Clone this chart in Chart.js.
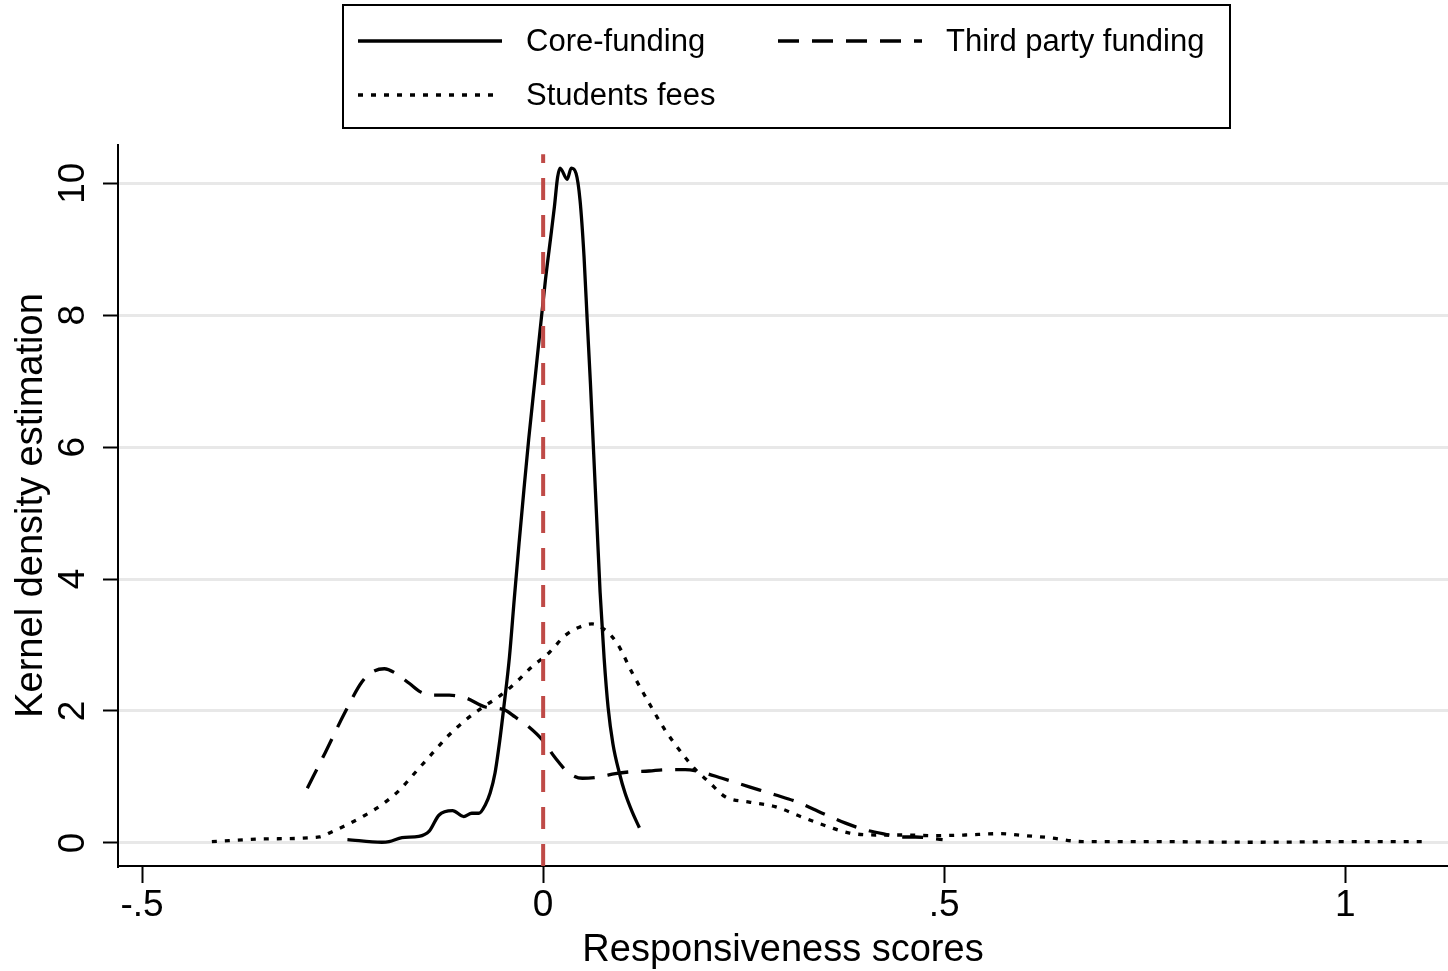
<!DOCTYPE html>
<html>
<head>
<meta charset="utf-8">
<script src="https://cdn.jsdelivr.net/npm/chart.js@4.4.0/dist/chart.umd.min.js"></script>
<style>
  html, body { margin: 0; padding: 0; background: #fff; }
  #wrap { width: 1448px; height: 971px; }
</style>
</head>
<body>
<div id="wrap"><canvas id="kdeChart" width="1448" height="971"></canvas></div>
<script>
// ==== Data ====
const xTicks = [-0.5, 0, 0.5, 1];
const yTicks = [0, 2, 4, 6, 8, 10];
const seriesNames = ["Core-funding", "Third party funding", "Students fees"];

const coreX = [-0.244, -0.201, -0.192, -0.176, -0.155, -0.142, -0.130, -0.113, -0.099, -0.089, -0.080, -0.072, -0.066, -0.060, -0.054, -0.049, -0.042, -0.036, -0.030, -0.024, -0.018, -0.010, -0.004, 0.003, 0.009, 0.014, 0.018, 0.021, 0.030, 0.035, 0.041, 0.046, 0.051, 0.055, 0.059, 0.063, 0.067, 0.071, 0.076, 0.081, 0.087, 0.095, 0.102, 0.111, 0.120];
const coreY = [0.05, 0.01, 0.02, 0.08, 0.10, 0.18, 0.42, 0.49, 0.40, 0.45, 0.45, 0.58, 0.76, 1.06, 1.56, 2.06, 2.82, 3.70, 4.55, 5.35, 6.12, 7.05, 7.75, 8.55, 9.14, 9.64, 10.09, 10.23, 10.06, 10.23, 10.15, 9.74, 8.88, 7.90, 6.95, 5.90, 4.85, 3.80, 2.80, 2.05, 1.50, 1.06, 0.76, 0.47, 0.23];

const thirdX = [-0.294, -0.272, -0.247, -0.226, -0.213, -0.198, -0.185, -0.167, -0.153, -0.138, -0.117, -0.097, -0.072, -0.049, -0.035, -0.018, -0.001, 0.015, 0.032, 0.049, 0.070, 0.090, 0.111, 0.132, 0.152, 0.177, 0.195, 0.223, 0.257, 0.289, 0.319, 0.348, 0.377, 0.401, 0.423, 0.448, 0.464, 0.498];
const thirdY = [0.83, 1.36, 1.98, 2.44, 2.59, 2.64, 2.58, 2.42, 2.29, 2.24, 2.24, 2.20, 2.06, 2.02, 1.91, 1.76, 1.56, 1.29, 1.06, 0.98, 1.00, 1.05, 1.08, 1.09, 1.11, 1.11, 1.08, 0.98, 0.85, 0.73, 0.61, 0.45, 0.30, 0.20, 0.14, 0.09, 0.09, 0.05];

const feesX = [-0.413, -0.347, -0.279, -0.263, -0.242, -0.222, -0.201, -0.180, -0.160, -0.138, -0.117, -0.097, -0.076, -0.055, -0.035, -0.014, 0.008, 0.027, 0.045, 0.061, 0.077, 0.092, 0.111, 0.132, 0.152, 0.173, 0.190, 0.207, 0.227, 0.257, 0.289, 0.323, 0.357, 0.382, 0.414, 0.448, 0.485, 0.526, 0.569, 0.601, 0.631, 0.672, 0.759, 0.884, 1.009, 1.102];
const feesY = [0.02, 0.06, 0.09, 0.17, 0.29, 0.42, 0.58, 0.79, 1.06, 1.36, 1.64, 1.86, 2.05, 2.22, 2.42, 2.67, 2.89, 3.14, 3.27, 3.32, 3.23, 3.03, 2.58, 2.12, 1.71, 1.36, 1.11, 0.92, 0.70, 0.62, 0.55, 0.39, 0.24, 0.15, 0.12, 0.12, 0.11, 0.12, 0.14, 0.11, 0.08, 0.02, 0.02, 0.01, 0.02, 0.02];

// vertical reference line at zero
const refX = [0, 0];
const refY = [-0.35, 10.44];

// ==== Helpers ====
const FONT = "'Liberation Sans', Arial, Helvetica, sans-serif";
const toPoints = (xs, ys) => xs.map((x, i) => ({ x: x, y: ys[i] }));
const fmtTick = v => (v === 0 ? "0" : String(v).replace("0.", "."));

// ==== Legend (framed, two columns) ====
const legendBox = {
  id: "legendBox",
  afterDraw(chart) {
    const ctx = chart.ctx;
    const sets = chart.data.datasets;
    const items = [
      { ds: 1, x0: 358, x1: 502, tx: 526, y: 41 },
      { ds: 2, x0: 778, x1: 922, tx: 946, y: 41 },
      { ds: 3, x0: 358, x1: 498, tx: 526, y: 95 }
    ];
    ctx.save();
    ctx.strokeStyle = "#000";
    ctx.lineWidth = 2;
    ctx.setLineDash([]);
    ctx.strokeRect(343, 5, 887, 123);
    items.forEach(it => {
      const d = sets[it.ds];
      ctx.beginPath();
      ctx.setLineDash(d.borderDash || []);
      ctx.lineWidth = d.borderWidth;
      ctx.strokeStyle = d.borderColor;
      ctx.moveTo(it.x0, it.y);
      ctx.lineTo(it.x1, it.y);
      ctx.stroke();
      ctx.setLineDash([]);
      ctx.fillStyle = "#000";
      ctx.font = "31px " + FONT;
      ctx.textBaseline = "middle";
      ctx.textAlign = "left";
      ctx.fillText(d.label, it.tx, it.y + 1);
    });
    ctx.restore();
  }
};

// ==== Chart ====
const ctx = document.getElementById("kdeChart").getContext("2d");
const chart = new Chart(ctx, {
  type: "line",
  data: {
    datasets: [
      {
        label: "ref",
        data: toPoints(refX, refY),
        borderColor: "#bf4a47",
        borderWidth: 4,
        borderDash: [22, 15],
        pointRadius: 0,
        tension: 0
      },
      {
        label: seriesNames[0],
        data: toPoints(coreX, coreY),
        borderColor: "#000",
        borderWidth: 3.3,
        pointRadius: 0,
        cubicInterpolationMode: "monotone"
      },
      {
        label: seriesNames[1],
        data: toPoints(thirdX, thirdY),
        borderColor: "#000",
        borderWidth: 3.3,
        borderDash: [21, 13],
        pointRadius: 0,
        cubicInterpolationMode: "monotone"
      },
      {
        label: seriesNames[2],
        data: toPoints(feesX, feesY),
        borderColor: "#000",
        borderWidth: 3.3,
        borderDash: [5, 8],
        pointRadius: 0,
        cubicInterpolationMode: "monotone"
      }
    ]
  },
  options: {
    responsive: false,
    animation: false,
    devicePixelRatio: 1,
    layout: { padding: { top: 145, right: 0, bottom: 0, left: 0 } },
    plugins: {
      legend: { display: false },
      tooltip: { enabled: false }
    },
    scales: {
      x: {
        type: "linear",
        min: -0.53,
        max: 1.128,
        afterBuildTicks: s => { s.ticks = xTicks.map(v => ({ value: v })); },
        afterFit: s => { s.height = 105; },
        border: { color: "#000", width: 2 },
        grid: {
          drawOnChartArea: false,
          tickLength: 17,
          tickColor: "#000",
          tickWidth: 2
        },
        ticks: {
          color: "#000",
          font: { family: FONT, size: 37 },
          padding: 1,
          maxRotation: 0,
          callback: v => fmtTick(v)
        },
        title: {
          display: true,
          text: "Responsiveness scores",
          color: "#000",
          font: { family: FONT, size: 38, lineHeight: 1.1 },
          padding: 0
        }
      },
      y: {
        min: -0.35,
        max: 10.58,
        afterBuildTicks: s => { s.ticks = yTicks.map(v => ({ value: v })); },
        afterFit: s => { s.width = 118; },
        border: { color: "#000", width: 2 },
        grid: {
          color: "#e8e8e8",
          lineWidth: 3,
          tickLength: 15,
          tickColor: "#000",
          tickWidth: 2
        },
        ticks: {
          color: "#000",
          font: { family: FONT, size: 37 },
          minRotation: 90,
          maxRotation: 90,
          crossAlign: "center",
          padding: 9,
          callback: v => fmtTick(v)
        },
        title: {
          display: true,
          text: "Kernel density estimation",
          color: "#000",
          font: { family: FONT, size: 38, lineHeight: 1.2 },
          padding: { top: 9, bottom: 0 }
        }
      }
    }
  },
  plugins: [legendBox]
});
</script>
</body>
</html>
